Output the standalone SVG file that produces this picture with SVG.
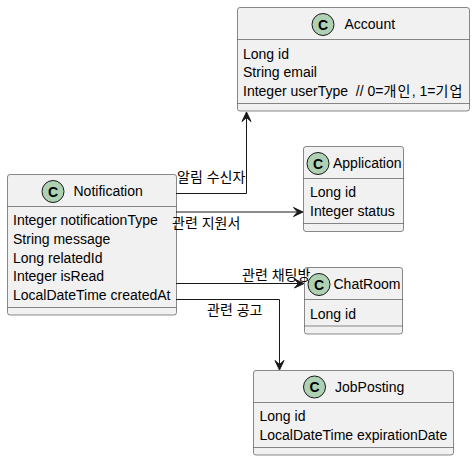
<svg xmlns="http://www.w3.org/2000/svg" width="475" height="461" viewBox="0 0 475 461">
<style>
.box{fill:#F1F1F1;stroke:#181818;stroke-width:.5}
.sep{stroke:#181818;stroke-width:.5;fill:none}
.spot{fill:#ADD1B2;stroke:#181818;stroke-width:1}
.c{font:bold 14px "Liberation Sans",sans-serif;text-anchor:middle;fill:#000}
.t{font:14px "Liberation Sans","Noto Sans CJK KR",sans-serif;fill:#000}
.l{font:14px "Liberation Sans","Noto Sans CJK KR",sans-serif;fill:#000}
.edge{fill:none;stroke:#181818;stroke-width:1}
.head{fill:#181818;stroke:#181818;stroke-width:1}
</style>
<rect width="475" height="461" fill="#fff"/>
<g id="Account">
<rect class="box" x="237.500" y="7.500" width="232" height="103.500" rx="2.500"/>
<path class="sep" d="M237.500 39.500H469.500M237.500 103.500H469.500"/>
<circle class="spot" cx="323" cy="24.500" r="11"/>
<text class="c" x="323" y="29.500">C</text>
<text class="t" x="344.500" y="29">Account</text>
<text class="t" x="243" y="58.500">Long id</text>
<text class="t" x="243" y="77">String email</text>
<text class="t" x="243" y="96" xml:space="preserve">Integer userType  // 0=<tspan letter-spacing="1.200">개인</tspan>, 1=<tspan letter-spacing="1.200">기업</tspan></text>
</g>
<g id="Application">
<rect class="box" x="303.500" y="146.500" width="100" height="85" rx="2.500"/>
<path class="sep" d="M303.500 178.500H403.500M303.500 223.500H403.500"/>
<circle class="spot" cx="318" cy="163.500" r="11"/>
<text class="c" x="318" y="168.500">C</text>
<text class="t" x="333" y="168">Application</text>
<text class="t" x="310" y="197">Long id</text>
<text class="t" x="310" y="216">Integer status</text>
</g>
<g id="ChatRoom">
<rect class="box" x="304.500" y="267.500" width="98" height="66.500" rx="2.500"/>
<path class="sep" d="M304.500 299.500H402.500M304.500 326H402.500"/>
<circle class="spot" cx="319" cy="284.500" r="11"/>
<text class="c" x="319" y="289.500">C</text>
<text class="t" x="333.500" y="289">ChatRoom</text>
<text class="t" x="310" y="319">Long id</text>
</g>
<g id="Notification">
<rect class="box" x="7.500" y="174.500" width="169" height="140.500" rx="2.500"/>
<path class="sep" d="M7.500 206.500H176.500M7.500 307.500H176.500"/>
<circle class="spot" cx="53" cy="191.500" r="11"/>
<text class="c" x="53" y="196.500">C</text>
<text class="t" x="73.500" y="196">Notification</text>
<text class="t" x="13" y="225">Integer notificationType</text>
<text class="t" x="13" y="244">String message</text>
<text class="t" x="13" y="263">Long relatedId</text>
<text class="t" x="13" y="281">Integer isRead</text>
<text class="t" x="13" y="300">LocalDateTime createdAt</text>
</g>
<g id="JobPosting">
<rect class="box" x="253.500" y="370.500" width="200" height="84.500" rx="2.500"/>
<path class="sep" d="M253.500 402.500H453.500M253.500 447.500H453.500"/>
<circle class="spot" cx="314.500" cy="387" r="11"/>
<text class="c" x="314.500" y="392">C</text>
<text class="t" x="335" y="392">JobPosting</text>
<text class="t" x="259.500" y="421">Long id</text>
<text class="t" x="259.500" y="440">LocalDateTime expirationDate</text>
</g>
<g id="connectors">
<path class="edge" d="M176 193.500H246.500V118"/>
<path class="head" d="M246.500 112L251 121.500L246.500 117.500L242 121.500Z"/>
<path class="edge" d="M176 212H297"/>
<path class="head" d="M303 212L293.500 207.500L297.500 212L293.500 216.500Z"/>
<path class="edge" d="M176 283.500H298"/>
<path class="head" d="M304 283.500L294.500 279L298.500 283.500L294.500 288Z"/>
<path class="edge" d="M176 299.500H279.500V364"/>
<path class="head" d="M279.500 370L275 360.500L279.500 364.500L284 360.500Z"/>
<text class="l" x="177" y="181.500">알림 수신자</text>
<text class="l" x="172" y="227.500">관련 지원서</text>
<text class="l" x="242" y="279.500">관련 채팅방</text>
<text class="l" x="207" y="314.500">관련 공고</text>
</g>
</svg>
